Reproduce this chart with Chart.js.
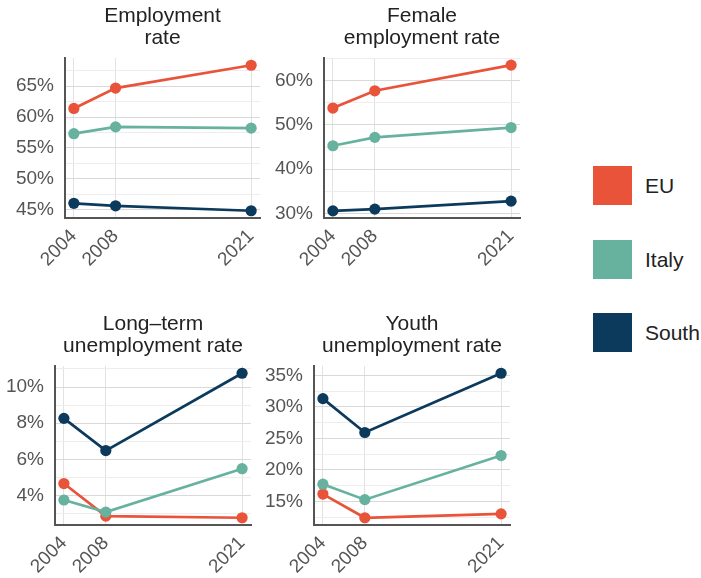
<!DOCTYPE html>
<html>
<head>
<meta charset="utf-8">
<script src="https://cdn.jsdelivr.net/npm/chart.js@4/dist/chart.umd.min.js"></script>
<style>
    body { margin: 0; background: #fff; }
    #wrap { position: relative; width: 701px; height: 578px; overflow: hidden; }
    canvas { position: absolute; }
    .key { position: absolute; left: 593px; width: 39px; height: 39px; }
    .key-label {
        position: absolute; left: 645px; font: 21px "Liberation Sans", Arial, sans-serif;
        color: #222; line-height: 39px;
    }
</style>
</head>
<body>
<div id="wrap">
    <canvas id="c-emp" width="270" height="290" style="left:0;top:0"></canvas>
    <canvas id="c-fem" width="270" height="290" style="left:260px;top:0"></canvas>
    <canvas id="c-ltu" width="270" height="288" style="left:0;top:290px"></canvas>
    <canvas id="c-youth" width="270" height="288" style="left:260px;top:290px"></canvas>
    <div id="legend"></div>
</div>
<script>
// Anni sull'asse x (comuni a tutti i pannelli)
const years = [2004, 2008, 2021];
const seriesNames = ['EU', 'Italy', 'South'];
const seriesColors = ['#E8533A', '#67B29F', '#0C3A5C'];

// Tasso di occupazione (%)
const empEU = [61.4, 64.7, 68.4];
const empItaly = [57.3, 58.4, 58.2];
const empSouth = [46.0, 45.6, 44.8];
const empTicks = [45, 50, 55, 60, 65];
const empGrid = [45, 47.5, 50, 52.5, 55, 57.5, 60, 62.5, 65, 67.5];

// Tasso di occupazione femminile (%)
const femEU = [53.8, 57.7, 63.5];
const femItaly = [45.3, 47.2, 49.4];
const femSouth = [30.6, 31.0, 32.8];
const femTicks = [30, 40, 50, 60];
const femGrid = [30, 35, 40, 45, 50, 55, 60, 65];

// Disoccupazione di lunga durata (%)
const ltuEU = [4.67, 2.87, 2.78];
const ltuItaly = [3.76, 3.09, 5.49];
const ltuSouth = [8.27, 6.49, 10.76];
const ltuTicks = [4, 6, 8, 10];
const ltuGrid = [3, 4, 5, 6, 7, 8, 9, 10, 11];

// Disoccupazione giovanile (%)
const youthEU = [16.15, 12.38, 13.0];
const youthItaly = [17.72, 15.26, 22.28];
const youthSouth = [31.33, 25.94, 35.37];
const youthTicks = [15, 20, 25, 30, 35];
const youthGrid = [12.5, 15, 17.5, 20, 22.5, 25, 27.5, 30, 32.5, 35];

const FONT = '"Liberation Sans", Arial, sans-serif';

// Titolo su due righe centrato sull'area del grafico
const panelTitle = {
    id: 'panelTitle',
    afterDraw(chart, args, opts) {
        const { ctx, chartArea } = chart;
        const cx = (chartArea.left + chartArea.right) / 2;
        ctx.save();
        ctx.font = `21px ${FONT}`;
        ctx.fillStyle = '#222';
        ctx.textAlign = 'center';
        ctx.textBaseline = 'alphabetic';
        opts.lines.forEach((t, i) => ctx.fillText(t, cx, opts.y + i * 21.5));
        ctx.restore();
    }
};

// niente margini extra per le etichette: l'area del grafico resta fissa
function noPadding(s) {
    s.paddingLeft = 0;
    s.paddingRight = 0;
    s.paddingTop = 0;
    s.paddingBottom = 0;
}

function makePanel(id, cfg) {
    const datasets = cfg.values.map((vals, i) => ({
        label: seriesNames[i],
        data: years.map((y, j) => ({ x: y, y: vals[j] })),
        borderColor: seriesColors[i],
        backgroundColor: seriesColors[i],
        borderWidth: 2.7,
        pointRadius: 5.6,
        pointBorderWidth: 0,
        tension: 0,
        order: 3 - i
    }));

    new Chart(document.getElementById(id), {
        type: 'line',
        data: { datasets },
        plugins: [panelTitle],
        options: {
            responsive: false,
            animation: false,
            devicePixelRatio: 1,
            layout: { padding: { top: cfg.top, right: cfg.right, left: 0, bottom: 0 } },
            plugins: {
                legend: { display: false },
                tooltip: { enabled: false },
                panelTitle: { lines: cfg.title, y: cfg.titleY }
            },
            scales: {
                x: {
                    type: 'linear',
                    min: 2003.15,
                    max: 2021.85,
                    afterBuildTicks: s => { s.ticks = years.map(v => ({ value: v })); },
                    afterFit: s => { s.height = cfg.xAxisH; noPadding(s); },
                    grid: { color: '#e2e2e2', lineWidth: 1, drawTicks: false },
                    border: { color: '#555', width: 2 },
                    ticks: {
                        autoSkip: false,
                        minRotation: 45,
                        maxRotation: 45,
                        padding: 7,
                        color: '#555',
                        font: { family: FONT, size: 19 },
                        callback: v => String(v)
                    }
                },
                y: {
                    min: cfg.min,
                    max: cfg.max,
                    afterBuildTicks: s => { s.ticks = cfg.grid.map(v => ({ value: v })); },
                    afterFit: s => { s.width = cfg.yAxisW; noPadding(s); },
                    grid: {
                        color: c => cfg.ticks.includes(c.tick.value) ? '#d9d9d9' : '#ededed',
                        lineWidth: 1,
                        drawTicks: false
                    },
                    border: { color: '#555', width: 2 },
                    ticks: {
                        autoSkip: false,
                        padding: 11,
                        color: '#555',
                        font: { family: FONT, size: 19 },
                        callback: v => cfg.ticks.includes(v) ? v + '%' : ''
                    }
                }
            }
        }
    });
}

makePanel('c-emp', {
    title: ['Employment', 'rate'], titleY: 22,
    values: [empEU, empItaly, empSouth],
    ticks: empTicks, grid: empGrid, min: 43.62, max: 69.58,
    top: 58, right: 10, yAxisW: 65, xAxisH: 72
});

makePanel('c-fem', {
    title: ['Female', 'employment rate'], titleY: 22,
    values: [femEU, femItaly, femSouth],
    ticks: femTicks, grid: femGrid, min: 29.0, max: 65.1,
    top: 58, right: 10, yAxisW: 64, xAxisH: 72
});

makePanel('c-ltu', {
    title: ['Long\u2013term', 'unemployment rate'], titleY: 40,
    values: [ltuEU, ltuItaly, ltuSouth],
    ticks: ltuTicks, grid: ltuGrid, min: 2.38, max: 11.16,
    top: 76, right: 19, yAxisW: 55, xAxisH: 53
});

makePanel('c-youth', {
    title: ['Youth', 'unemployment rate'], titleY: 40,
    values: [youthEU, youthItaly, youthSouth],
    ticks: youthTicks, grid: youthGrid, min: 11.23, max: 36.52,
    top: 76, right: 20, yAxisW: 54, xAxisH: 53
});

// Legenda a quadrati
const legendTops = [166, 240, 313];
document.getElementById('legend').innerHTML = seriesNames.map((name, i) => `
    <div class="key" style="top:${legendTops[i]}px;background:${seriesColors[i]}"></div>
    <div class="key-label" style="top:${legendTops[i]}px">${name}</div>
`).join('');
</script>
</body>
</html>
